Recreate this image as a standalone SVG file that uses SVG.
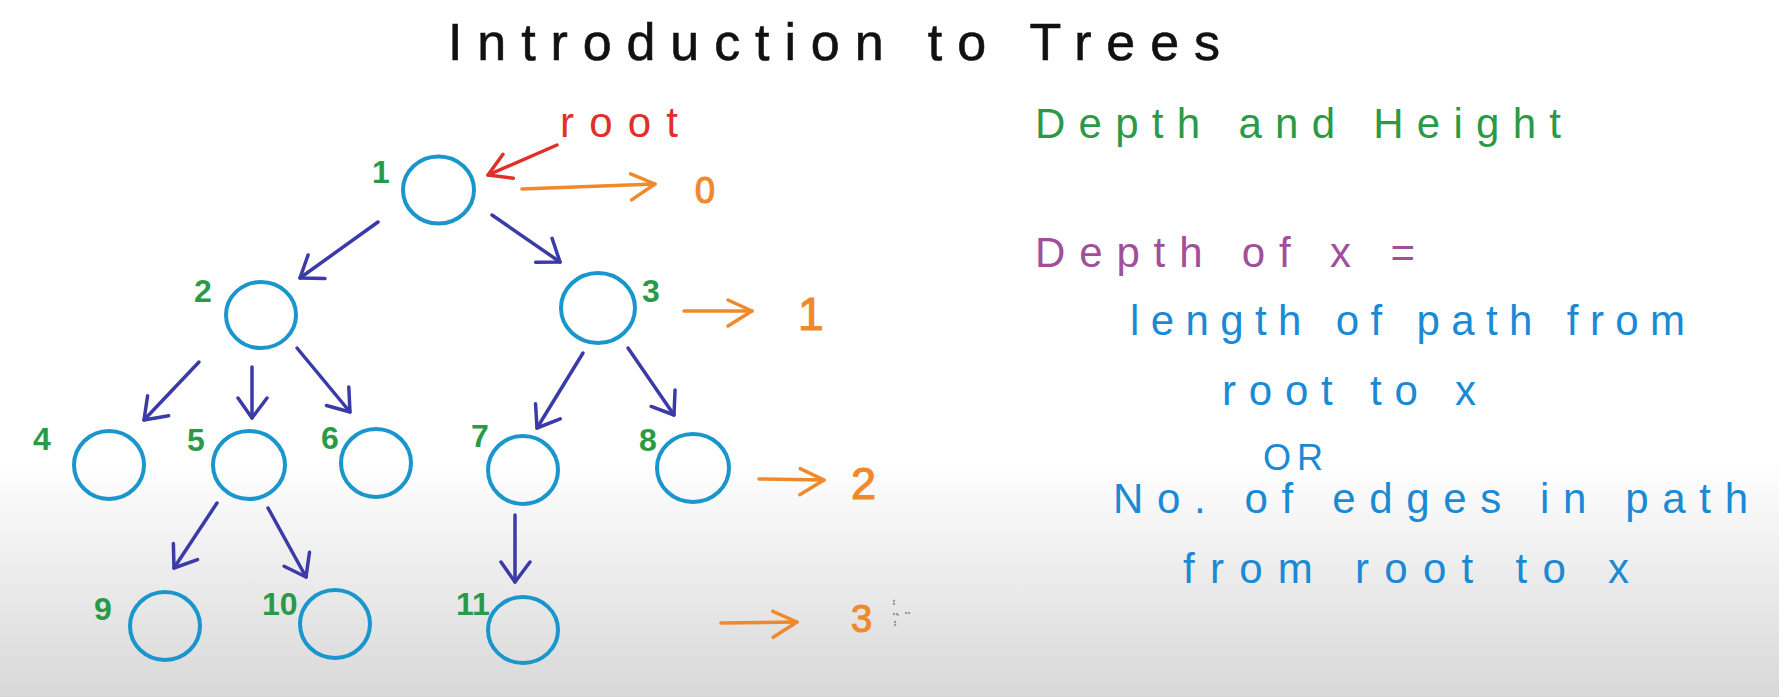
<svg xmlns="http://www.w3.org/2000/svg" width="1779" height="697" viewBox="0 0 1779 697">
<defs>
<linearGradient id="bg" x1="0" y1="460" x2="0" y2="697" gradientUnits="userSpaceOnUse">
<stop offset="0" stop-color="#ffffff"/>
<stop offset="1" stop-color="#d8d8d8"/>
</linearGradient>
<marker id="ah-ind" markerUnits="userSpaceOnUse" markerWidth="40" markerHeight="40" viewBox="-30 -20 40 40" refX="0" refY="0" orient="auto">
<path d="M-20,-15 L0,0 L-20,14" fill="none" stroke="#3b3ba8" stroke-width="3.5" stroke-linecap="round" stroke-linejoin="round"/>
</marker>
<marker id="ah-or" markerUnits="userSpaceOnUse" markerWidth="40" markerHeight="40" viewBox="-30 -20 40 40" refX="0" refY="0" orient="auto">
<path d="M-24,-11 L0,0 L-24,15" fill="none" stroke="#f0892c" stroke-width="3.5" stroke-linecap="round" stroke-linejoin="round"/>
</marker>
<marker id="ah-red" markerUnits="userSpaceOnUse" markerWidth="40" markerHeight="40" viewBox="-30 -20 40 40" refX="0" refY="0" orient="auto">
<path d="M-22,-13 L0,0 L-22,13" fill="none" stroke="#e0302a" stroke-width="3.5" stroke-linecap="round" stroke-linejoin="round"/>
</marker>
</defs>
<style>
.node{fill:none;stroke:#1a96cd;stroke-width:4}
.lbl{font-family:"Liberation Sans",Arial,sans-serif;font-size:32px;font-weight:bold;fill:#2a9a48}
.edge{fill:none;stroke:#3b3ba8;stroke-width:3.5;stroke-linecap:round;marker-end:url(#ah-ind)}
.lvl{fill:none;stroke:#f0892c;stroke-width:3.5;stroke-linecap:round;marker-end:url(#ah-or)}
.lvlt{font-family:"Liberation Sans",Arial,sans-serif;fill:#f0892c;stroke:#f0892c;stroke-width:1.2}
.title{font-family:"Liberation Sans",Arial,sans-serif;font-size:52px;fill:#111;stroke:#111;stroke-width:0.6}
.rt{font-family:"Liberation Sans",Arial,sans-serif;font-size:42px}
.blue{fill:#1a8ad4}
</style>
<rect x="0" y="0" width="1779" height="697" fill="url(#bg)"/>

<text class="title" x="448" y="60" textLength="772" lengthAdjust="spacing">Introduction to Trees</text>

<g id="connectors">
<path class="edge" d="M378,222 L300,278"/>
<path class="edge" d="M492,215 L560,262"/>
<path class="edge" d="M199,362 L144,420"/>
<path class="edge" d="M252,367 L252,418"/>
<path class="edge" d="M297,348 L350,412"/>
<path class="edge" d="M583,353 L537,428"/>
<path class="edge" d="M628,348 L674,415"/>
<path class="edge" d="M217,503 L174,568"/>
<path class="edge" d="M268,508 L306,577"/>
<path class="edge" d="M515,515 L515,582"/>
</g>

<g id="node1"><ellipse class="node" cx="438.5" cy="190" rx="35.5" ry="33.5"/><text class="lbl" x="372" y="183">1</text></g>
<g id="node2"><ellipse class="node" cx="261" cy="315" rx="35" ry="33"/><text class="lbl" x="194" y="302">2</text></g>
<g id="node3"><ellipse class="node" cx="598" cy="308" rx="37" ry="35"/><text class="lbl" x="642" y="302">3</text></g>
<g id="node4"><ellipse class="node" cx="109" cy="465" rx="35" ry="34"/><text class="lbl" x="33" y="450">4</text></g>
<g id="node5"><ellipse class="node" cx="249" cy="465" rx="36" ry="34"/><text class="lbl" x="187" y="451">5</text></g>
<g id="node6"><ellipse class="node" cx="376" cy="463" rx="35" ry="34"/><text class="lbl" x="321" y="449">6</text></g>
<g id="node7"><ellipse class="node" cx="523" cy="470" rx="35" ry="34"/><text class="lbl" x="471" y="447">7</text></g>
<g id="node8"><ellipse class="node" cx="693" cy="468" rx="36" ry="34"/><text class="lbl" x="639" y="451">8</text></g>
<g id="node9"><ellipse class="node" cx="165" cy="626" rx="35" ry="34"/><text class="lbl" x="94" y="620">9</text></g>
<g id="node10"><ellipse class="node" cx="335" cy="624" rx="35" ry="34"/><text class="lbl" x="262" y="615">10</text></g>
<g id="node11"><ellipse class="node" cx="523" cy="630" rx="35" ry="33"/><text class="lbl" x="456" y="615">11</text></g>

<g id="root-annotation">
<text class="rt" x="560" y="137" fill="#e0302a" textLength="118" lengthAdjust="spacing">root</text>
<path d="M557,145 L488,175" fill="none" stroke="#e0302a" stroke-width="3.5" stroke-linecap="round" marker-end="url(#ah-red)"/>
</g>

<g id="levels">
<path class="lvl" d="M522,189 L655,184"/>
<text class="lvlt" x="695" y="203" font-size="36">0</text>
<path class="lvl" d="M684,311 L752,311"/>
<text class="lvlt" x="798" y="330" font-size="46">1</text>
<path class="lvl" d="M759,479 L824,480"/>
<text class="lvlt" x="851" y="499" font-size="45">2</text>
<path class="lvl" d="M721,623 L797,622"/>
<text class="lvlt" x="851" y="632" font-size="38">3</text>
<g fill="#9a9a9a"><circle cx="894" cy="614" r="1.2"/><circle cx="897" cy="614" r="1.2"/><circle cx="894" cy="601" r="1.2"/><circle cx="894" cy="604" r="1.2"/><circle cx="898" cy="615" r="1"/><circle cx="906" cy="613" r="1.2"/><circle cx="909" cy="613" r="1.2"/><circle cx="895" cy="622" r="1.2"/><circle cx="895" cy="625" r="1.2"/></g>
</g>

<g id="notes">
<text class="rt" x="1035" y="138" fill="#2a9a48" textLength="526" lengthAdjust="spacing">Depth and Height</text>
<text class="rt" x="1035" y="267" fill="#a0509a" textLength="380" lengthAdjust="spacing">Depth of x =</text>
<text class="rt blue" x="1130" y="335" textLength="555" lengthAdjust="spacing">length of path from</text>
<text class="rt blue" x="1222" y="405" textLength="254" lengthAdjust="spacing">root to x</text>
<text class="rt blue" x="1263" y="470" style="font-size:36px" textLength="60" lengthAdjust="spacing">OR</text>
<text class="rt blue" x="1113" y="513" textLength="635" lengthAdjust="spacing">No. of edges in path</text>
<text class="rt blue" x="1183" y="583" textLength="446" lengthAdjust="spacing">from root to x</text>
</g>
</svg>
